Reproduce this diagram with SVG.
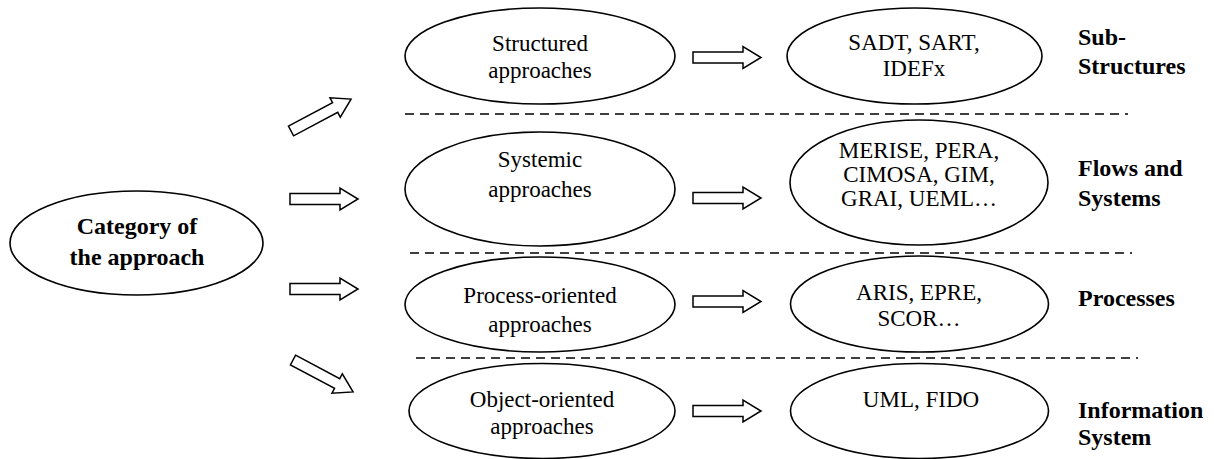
<svg xmlns="http://www.w3.org/2000/svg" width="1214" height="459" viewBox="0 0 1214 459">
  <style>
    .node ellipse { fill: #ffffff; stroke: #000000; stroke-width: 1.6; }
    text { font-family: 'Liberation Serif', 'Times New Roman', Times, 'DejaVu Serif', serif; fill: #000000; }
    .lbl { font-size: 23px; text-anchor: middle; }
    .bold { font-size: 24px; font-weight: bold; }
    .mid { text-anchor: middle; }
    .sep { stroke: #000000; stroke-width: 1.6; stroke-dasharray: 9 6; fill: none; }
    .arrow { fill: #ffffff; stroke: #000000; stroke-width: 1.5; stroke-linejoin: miter; }
  </style>
  <defs>
    <!-- hollow block arrow, tail at origin, pointing along +x -->
    <path id="blk" d="M0,-5.5 H50 V-11 L68,0 L50,11 V5.5 H0 Z"/>
  </defs>

  <rect width="1214" height="459" fill="#ffffff"/>

  <!-- dashed separators between the rows -->
  <g id="separators">
    <line class="sep" x1="405" y1="114" x2="1128" y2="114"/>
    <line class="sep" x1="410" y1="253" x2="1132" y2="253"/>
    <line class="sep" x1="416" y1="358" x2="1138" y2="358"/>
  </g>

  <!-- connectors -->
  <g id="connectors">
    <use href="#blk" class="arrow" transform="translate(291,131) rotate(-28)"/>
    <use href="#blk" class="arrow" transform="translate(290,199)"/>
    <use href="#blk" class="arrow" transform="translate(290,289)"/>
    <use href="#blk" class="arrow" transform="translate(293,360) rotate(28)"/>
    <use href="#blk" class="arrow" transform="translate(693,57.5)"/>
    <use href="#blk" class="arrow" transform="translate(693,198)"/>
    <use href="#blk" class="arrow" transform="translate(693,301.5)"/>
    <use href="#blk" class="arrow" transform="translate(693,411)"/>
  </g>

  <g id="category" class="node">
    <ellipse cx="136.5" cy="243" rx="126.5" ry="52"/>
    <text class="bold mid" x="137" y="234">Category of</text>
    <text class="bold mid" x="137" y="265">the approach</text>
  </g>

  <g id="structured" class="node">
    <ellipse cx="540" cy="56" rx="135" ry="48"/>
    <text class="lbl" x="540" y="51">Structured</text>
    <text class="lbl" x="540" y="78">approaches</text>
  </g>

  <g id="systemic" class="node">
    <ellipse cx="540" cy="189" rx="135" ry="57"/>
    <text class="lbl" x="540" y="167">Systemic</text>
    <text class="lbl" x="540" y="197">approaches</text>
  </g>

  <g id="process" class="node">
    <ellipse cx="540" cy="304.5" rx="135" ry="47.5"/>
    <text class="lbl" x="540" y="303">Process-oriented</text>
    <text class="lbl" x="540" y="332">approaches</text>
  </g>

  <g id="object" class="node">
    <ellipse cx="542" cy="411" rx="133" ry="47.5"/>
    <text class="lbl" x="542" y="407">Object-oriented</text>
    <text class="lbl" x="542" y="434">approaches</text>
  </g>

  <g id="sadt" class="node">
    <ellipse cx="914.5" cy="56" rx="127.5" ry="48"/>
    <text class="lbl" x="914" y="50">SADT, SART,</text>
    <text class="lbl" x="914" y="76">IDEFx</text>
  </g>

  <g id="merise" class="node">
    <ellipse cx="919" cy="182.5" rx="129" ry="62.5"/>
    <text class="lbl" x="919" y="158">MERISE, PERA,</text>
    <text class="lbl" x="919" y="182">CIMOSA, GIM,</text>
    <text class="lbl" x="919" y="206">GRAI, UEML…</text>
  </g>

  <g id="aris" class="node">
    <ellipse cx="919.5" cy="304" rx="129" ry="48"/>
    <text class="lbl" x="919" y="300">ARIS, EPRE,</text>
    <text class="lbl" x="919" y="326">SCOR…</text>
  </g>

  <g id="uml" class="node">
    <ellipse cx="919.5" cy="411" rx="129" ry="47.5"/>
    <text class="lbl" x="921" y="407">UML, FIDO</text>
  </g>

  <!-- row captions -->
  <g id="captions">
    <text class="bold" x="1078" y="45">Sub-</text>
    <text class="bold" x="1078" y="74">Structures</text>
    <text class="bold" x="1078" y="176">Flows and</text>
    <text class="bold" x="1078" y="206">Systems</text>
    <text class="bold" x="1078" y="306">Processes</text>
    <text class="bold" x="1078" y="418">Information</text>
    <text class="bold" x="1078" y="445">System</text>
  </g>
</svg>
